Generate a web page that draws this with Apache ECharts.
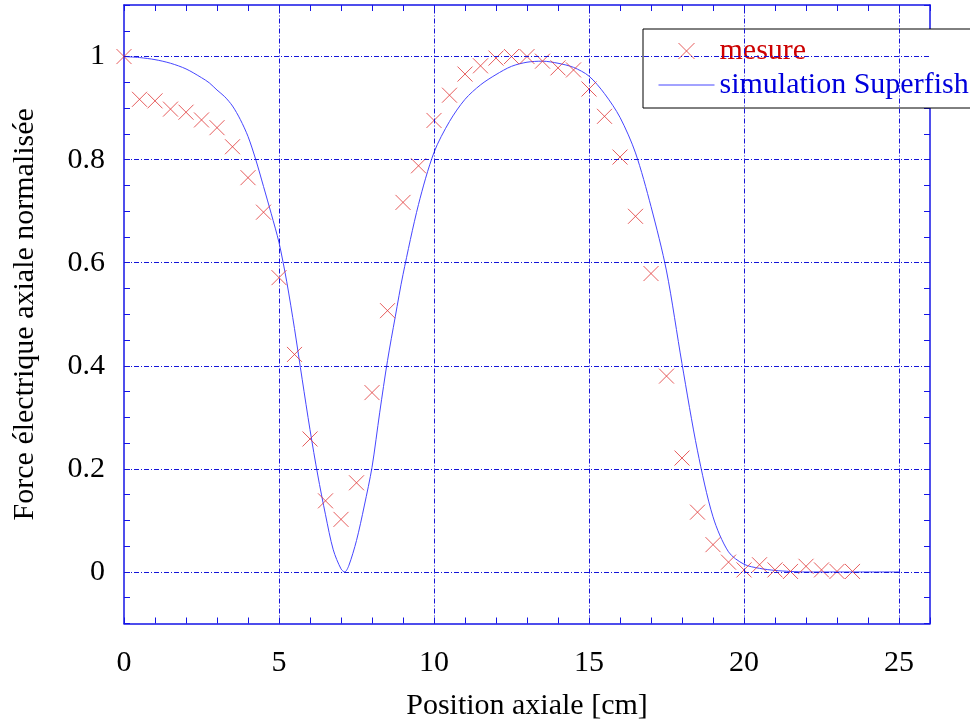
<!DOCTYPE html>
<html>
<head>
<meta charset="utf-8">
<script src="https://cdn.jsdelivr.net/npm/echarts@6/dist/echarts.min.js"></script>
<style>
  html, body { margin: 0; padding: 0; background: #ffffff; }
  #chart { width: 970px; height: 723px; }
</style>
</head>
<body>
<div id="chart"></div>
<script>
// Measured axial field (normalised) along the cavity axis, in cm
const positionsMesure = [
  0, 0.5, 1, 1.5, 2, 2.5, 3, 3.5, 4, 4.5,
  5, 5.5, 6, 6.5, 7, 7.5, 8, 8.5, 9, 9.5,
  10, 10.5, 11, 11.5, 12, 12.5, 13, 13.5, 14, 14.5,
  15, 15.5, 16, 16.5, 17, 17.5, 18, 18.5, 19, 19.5,
  20, 20.5, 21, 21.5, 22, 22.5, 23, 23.5
];
const forceMesure = [
  1.000, 0.917, 0.914, 0.898, 0.892, 0.877, 0.862, 0.825, 0.765, 0.698,
  0.571, 0.422, 0.258, 0.138, 0.102, 0.173, 0.348, 0.507, 0.717, 0.788,
  0.876, 0.925, 0.966, 0.982, 0.997, 1.000, 1.000, 0.991, 0.978, 0.974,
  0.937, 0.884, 0.805, 0.690, 0.579, 0.380, 0.221, 0.116, 0.053, 0.019,
  0.004, 0.014, 0.004, 0.001, 0.011, 0.004, 0.001, 0.001
];

// Superfish field map sampled along the axis
const positionsSimulation = [
  0, 0.5, 1, 1.5, 2, 2.5, 2.75, 3, 3.25, 3.5,
  3.75, 4, 4.25, 4.5, 4.75, 5, 5.25, 5.5, 5.75, 6,
  6.25, 6.5, 6.75, 7, 7.12, 7.25, 7.5, 7.75, 8, 8.25,
  8.5, 8.75, 9, 9.5, 10, 10.5, 11, 11.5, 12, 12.5,
  13, 13.5, 14, 14.5, 15, 15.5, 16, 16.5, 17, 17.5,
  18, 18.5, 19, 19.5, 20, 20.5, 21, 21.5, 22, 23,
  24, 25
];
const forceSimulation = [
  1.000, 0.998, 0.994, 0.987, 0.976, 0.959, 0.949, 0.935, 0.922, 0.904,
  0.878, 0.845, 0.800, 0.748, 0.695, 0.639, 0.563, 0.472, 0.373, 0.276,
  0.188, 0.111, 0.043, 0.006, 0.000, 0.012, 0.061, 0.128, 0.203, 0.310,
  0.410, 0.495, 0.577, 0.713, 0.814, 0.874, 0.917, 0.945, 0.965, 0.981,
  0.989, 0.991, 0.987, 0.979, 0.962, 0.928, 0.882, 0.813, 0.709, 0.584,
  0.404, 0.235, 0.107, 0.039, 0.015, 0.007, 0.003, 0.001, 0.000, 0.000,
  0.000, 0.000
];

// Reference lines of the plotting grid
const gridPositions = [5, 10, 15, 20, 25];
const gridForces = [0, 0.2, 0.4, 0.6, 0.8, 1];

const serif = 'Liberation Serif';
const axisBlue = '#1414e6';
const gridBlue = '#1414d8';
const curveBlue = '#4646ff';
const crossRed = '#e03535';
const crossPath = 'path://M0,0L10,10M10,0L0,10';

function xLabel(v) {
  const r = Math.round(v);
  return r % 5 === 0 && r <= 25 ? String(r) : '';
}
function yLabel(v) {
  const r = Math.round(v * 100) / 100;
  return Math.abs(r * 5 - Math.round(r * 5)) < 1e-9 && r >= 0 && r <= 1 ? String(r) : '';
}

// One side of the plot frame: axis line plus inward ticks every unit / 0.05
function frameAxis(position, showLabels, isX) {
  return {
    type: 'value',
    position: position,
    min: isX ? 0 : -0.1,
    max: isX ? 26 : 1.1,
    interval: isX ? 1 : 0.05,
    axisLine: { show: true, onZero: false, lineStyle: { color: axisBlue, width: 1.5 } },
    axisTick: { show: true, inside: true, length: 6, lineStyle: { color: axisBlue, width: 1 } },
    splitLine: { show: false },
    minorTick: { show: false },
    axisLabel: {
      show: showLabels,
      color: '#000000',
      fontFamily: serif,
      fontSize: 30,
      margin: isX ? 25 : 19,
      formatter: isX ? xLabel : yLabel
    }
  };
}

const xBottom = frameAxis('bottom', true, true);
xBottom.name = 'Position axiale [cm]';
xBottom.nameLocation = 'middle';
xBottom.nameGap = 68;
xBottom.nameTextStyle = { color: '#000000', fontFamily: serif, fontSize: 30 };

const yLeft = frameAxis('left', true, false);
yLeft.name = 'Force électrique axiale normalisée';
yLeft.nameLocation = 'middle';
yLeft.nameGap = 84;
yLeft.nameTextStyle = { color: '#000000', fontFamily: serif, fontSize: 30 };

const chart = echarts.init(document.getElementById('chart'), null, { renderer: 'canvas' });

chart.setOption({
  animation: false,
  backgroundColor: '#ffffff',
  textStyle: { fontFamily: serif },
  grid: { left: 124, right: 40, top: 5, bottom: 99.5, containLabel: false, outerBoundsMode: 'none' },
  xAxis: [xBottom, frameAxis('top', false, true)],
  yAxis: [yLeft, frameAxis('right', false, false)],
  legend: {
    left: 643,
    top: 29,
    orient: 'vertical',
    itemWidth: 56,
    itemHeight: 16,
    itemGap: 4,
    padding: [7, 24, 8, 15],
    backgroundColor: '#ffffff',
    borderColor: '#000000',
    borderWidth: 1,
    borderRadius: 0,
    selectedMode: false,
    textStyle: { fontFamily: serif, fontSize: 30, lineHeight: 30 },
    data: [
      {
        name: 'mesure',
        icon: crossPath,
        itemStyle: { color: 'rgba(0,0,0,0)', borderColor: crossRed, borderWidth: 1 },
        textStyle: { color: '#cc0000' }
      },
      {
        name: 'simulation Superfish',
        itemStyle: { color: 'rgba(0,0,0,0)', borderColor: 'rgba(0,0,0,0)', borderWidth: 0 },
        lineStyle: { color: curveBlue, width: 1 },
        textStyle: { color: '#0000dd' }
      }
    ]
  },
  series: [
    {
      name: 'grille',
      type: 'line',
      data: [],
      silent: true,
      z: 1,
      markLine: {
        silent: true,
        symbol: ['none', 'none'],
        label: { show: false },
        emphasis: { disabled: true },
        lineStyle: { color: gridBlue, width: 1, type: [5, 2, 1, 2] },
        data: gridPositions.map(v => ({ xAxis: v })).concat(gridForces.map(v => ({ yAxis: v })))
      }
    },
    {
      name: 'simulation Superfish',
      type: 'line',
      z: 3,
      data: positionsSimulation.map((x, i) => [x, forceSimulation[i]]),
      symbol: 'none',
      smooth: 0.3,
      lineStyle: { color: curveBlue, width: 1 },
      itemStyle: { color: curveBlue }
    },
    {
      name: 'mesure',
      type: 'scatter',
      z: 4,
      data: positionsMesure.map((x, i) => [x, forceMesure[i]]),
      symbol: crossPath,
      symbolSize: 15,
      itemStyle: { color: 'rgba(0,0,0,0)', borderColor: crossRed, borderWidth: 1 }
    }
  ]
});
</script>
</body>
</html>
